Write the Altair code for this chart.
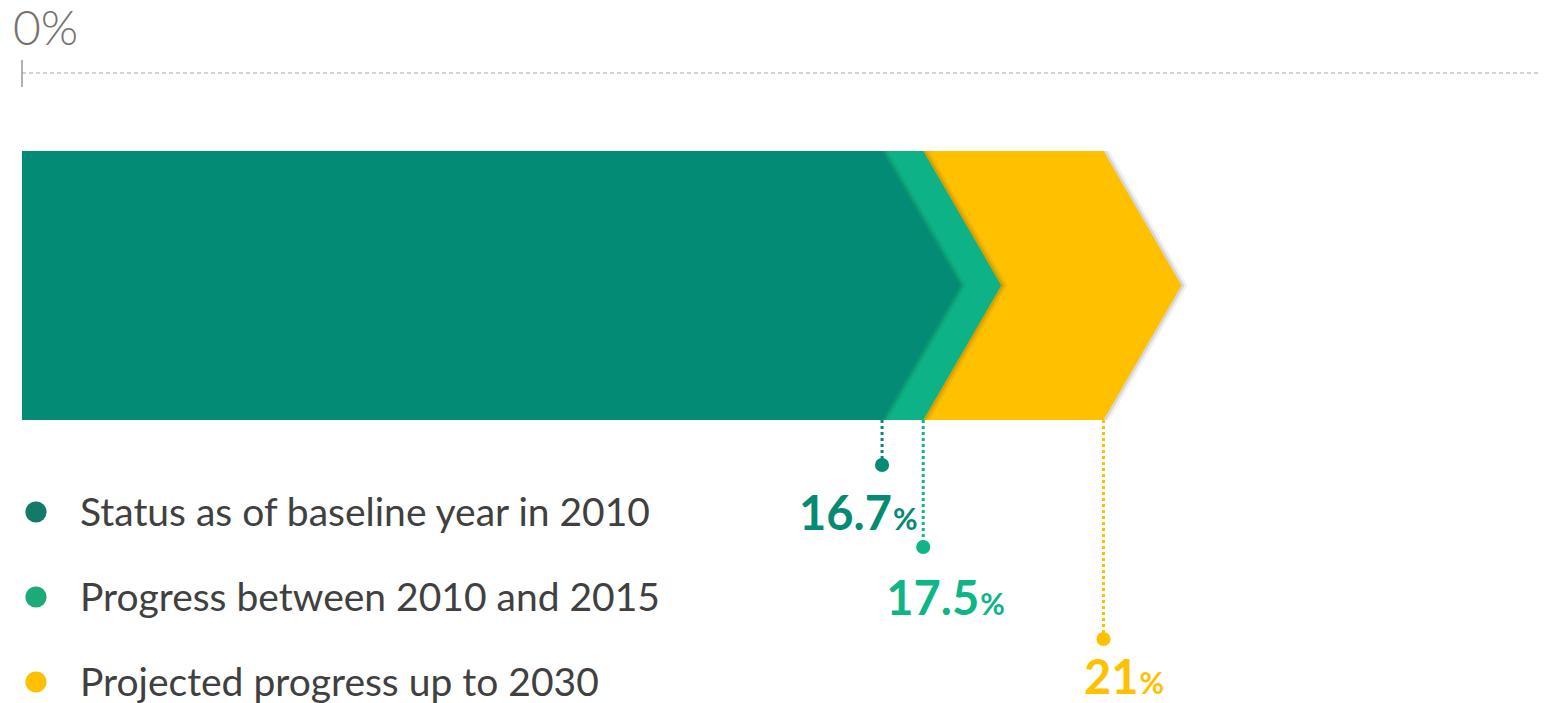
import altair as alt
import pandas as pd

# ---- data ----
categories = ["Status as of baseline year in 2010",
              "Progress between 2010 and 2015",
              "Projected progress up to 2030"]
values = [16.7, 17.5, 21.0]
number_labels = ["16.7", "17.5", "21"]
unit_label = "%"
axis_tick_value = 0
axis_tick_label = "0%"

# ---- styles ----
bar_colors = ["#048B76", "#0DB386", "#FFC000"]
label_colors = ["#058A74", "#10B587", "#FFC000"]
legend_colors = ["#127A66", "#1BAA78", "#FFC000"]
FONT = "Lato"

# ---- layout (page-pixel rows on the y scale) ----
PX_PER_PCT = 51.5
ZERO_PX = 22
W, H = 1531, 695
x_min = (8 - ZERO_PX) / PX_PER_PCT
x_max = (8 + W - ZERO_PX) / PX_PER_PCT
chevron_depth = 78 / PX_PER_PCT
bar_top, bar_bottom = 151, 420
dot_rows = [465, 547, 639]
label_rows = [530, 615, 694]
label_dx = [10, 56, 35]
legend_rows = [512, 597, 682]

xs = alt.Scale(domain=[x_min, x_max], nice=False, zero=False)
ys = alt.Scale(domain=[8, 8 + H], reverse=True, nice=False, zero=False)

def X(f):
    return alt.X(f, type="quantitative", scale=xs, axis=None)

def Y(f):
    return alt.Y(f, type="quantitative", scale=ys, axis=None)

def chevron_df(v, shift=0.0):
    mid = (bar_top + bar_bottom) / 2
    return pd.DataFrame({
        "y": [bar_top, mid, bar_bottom],
        "x": [v + shift, v + chevron_depth + shift, v + shift],
        "x0": [shift, shift, shift],
    })

layers = []
# draw back to front: projected, progress, baseline
for i in [2, 1, 0]:
    for shift_px, op in [(6, 0.06), (3, 0.10)]:
        layers.append(
            alt.Chart(chevron_df(values[i], shift_px / PX_PER_PCT))
            .mark_area(orient="horizontal", color="#000000", opacity=op)
            .encode(x=X("x"), x2="x0:Q", y=Y("y"))
        )
    layers.append(
        alt.Chart(chevron_df(values[i]))
        .mark_area(orient="horizontal", color=bar_colors[i])
        .encode(x=X("x"), x2="x0:Q", y=Y("y"))
    )

items = pd.DataFrame({
    "cat": categories,
    "value": values,
    "num": number_labels,
    "unit": [unit_label] * 3,
    "top": [bar_bottom] * 3,
    "dot_y": dot_rows,
    "lab_y": label_rows,
    "leg_y": legend_rows,
})

for i in range(3):
    row = items.iloc[[i]]
    c = label_colors[i]
    layers.append(
        alt.Chart(row).mark_rule(color=c, strokeWidth=3, strokeDash=[3, 3])
        .encode(x=X("value"), y=Y("top"), y2="dot_y:Q")
    )
    layers.append(
        alt.Chart(row).mark_circle(color=c, opacity=1, size=200)
        .encode(x=X("value"), y=Y("dot_y"))
    )
    layers.append(
        alt.Chart(row).mark_text(color=c, font=FONT, fontWeight="bold", fontSize=47,
                                 align="right", baseline="alphabetic", dx=label_dx[i])
        .encode(x=X("value"), y=Y("lab_y"), text="num:N")
    )
    layers.append(
        alt.Chart(row).mark_text(color=c, font=FONT, fontWeight="bold", fontSize=30,
                                 align="left", baseline="alphabetic", dx=label_dx[i] + 1)
        .encode(x=X("value"), y=Y("lab_y"), text="unit:N")
    )
    # legend
    layers.append(
        alt.Chart(row).mark_circle(color=legend_colors[i], opacity=1, size=450)
        .encode(x=alt.value(28), y=Y("leg_y"))
    )
    layers.append(
        alt.Chart(row).mark_text(color="#404040", font=FONT, fontSize=39,
                                 align="left", baseline="middle", dy=2)
        .encode(x=alt.value(72), y=Y("leg_y"), text="cat:N")
    )

# top scale line with 0% tick
axis_df = pd.DataFrame({"v": [axis_tick_value], "lab": [axis_tick_label],
                        "ly": [73], "t0": [60], "t1": [87], "ty": [45]})
layers.append(
    alt.Chart(axis_df).mark_rule(color="#A6A6A6", strokeWidth=1.2, strokeDash=[4, 3])
    .encode(x=X("v"), x2=alt.value(W + 8), y=Y("ly"))
)
layers.append(
    alt.Chart(axis_df).mark_rule(color="#7F7F7F", strokeWidth=1.2)
    .encode(x=X("v"), y=Y("t0"), y2="t1:Q")
)
layers.append(
    alt.Chart(axis_df).mark_text(color="#767171", font=FONT, fontWeight=300, fontSize=48,
                                 align="left", baseline="alphabetic", dx=-9)
    .encode(x=X("v"), y=Y("ty"), text="lab:N")
)

chart = alt.layer(*layers).properties(
    width=W, height=H, padding=0,
    autosize=alt.AutoSizeParams(type="none"),
    background="white",
).configure_view(stroke=None)

chart.save("out.html", embed_options={"renderer": "svg", "actions": False})
